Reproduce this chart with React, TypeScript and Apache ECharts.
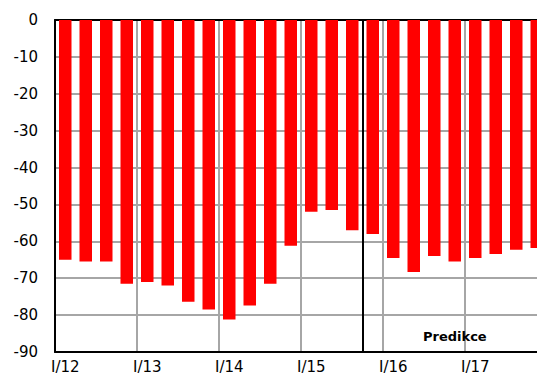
import React, { useEffect, useRef } from "react";
import * as echarts from "echarts";

const years = ["12", "13", "14", "15", "16", "17"];
const quarters = ["I", "II", "III", "IV"];
const categories: string[] = years.flatMap((y) => quarters.map((q) => `${q}/${y}`));
const values: number[] = [
  -65, -65.5, -65.5, -71.5,
  -71, -72, -76.4, -78.5,
  -81.2, -77.4, -71.5, -61.2,
  -52, -51.5, -57, -58,
  -64.5, -68.3, -64, -65.5,
  -64.5, -63.4, -62.3, -61.8,
];
const forecastStartLabel = "IV/15";
const forecastText = "Predikce";
const yMin = -90;
const yMax = 0;
const yStep = 10;

export default function App() {
  const ref = useRef<HTMLDivElement>(null);
  useEffect(() => {
    if (!ref.current) return;
    const chart = echarts.init(ref.current, null, { renderer: "svg" });
    const forecastIndex = categories.indexOf(forecastStartLabel);
    const font = "DejaVu Sans";
    chart.setOption({
      animation: false,
      grid: { left: 55, top: 20, right: 0, bottom: 25, containLabel: false },
      xAxis: [
        {
          type: "category",
          data: categories,
          position: "bottom",
          boundaryGap: true,
          axisLine: { show: true, onZero: false, lineStyle: { color: "#000", width: 2 } },
          axisTick: { show: false },
          axisLabel: {
            interval: 3,
            fontFamily: font,
            fontSize: 15,
            color: "#000",
            margin: 7,
          },
          splitLine: { show: true, interval: 3, lineStyle: { color: "#a6a6a6", width: 2 } },
        },
        {
          type: "value",
          min: 0,
          max: categories.length,
          position: "top",
          axisLine: { show: true, onZero: false, lineStyle: { color: "#000", width: 2 } },
          axisTick: { show: false },
          axisLabel: { show: false },
          splitLine: { show: false },
        },
      ],
      yAxis: {
        type: "value",
        min: yMin,
        max: yMax,
        interval: yStep,
        axisLine: { show: true, lineStyle: { color: "#000", width: 2 } },
        axisTick: { show: false },
        axisLabel: { fontFamily: font, fontSize: 15, color: "#000", margin: 17 },
        splitLine: { show: true, lineStyle: { color: "#a6a6a6", width: 2 } },
      },
      series: [
        {
          type: "bar",
          data: values,
          xAxisIndex: 0,
          barWidth: 12.5,
          itemStyle: { color: "#ff0000" },
          z: 3,
        },
        {
          type: "line",
          xAxisIndex: 1,
          data: [],
          silent: true,
          markLine: {
            silent: true,
            symbol: "none",
            label: { show: false },
            lineStyle: { color: "#000", width: 2, type: "solid" },
            data: [{ xAxis: forecastIndex }],
          },
          z: 4,
        },
      ],
      graphic: [
        {
          type: "text",
          left: 423,
          top: 330,
          style: {
            text: forecastText,
            fontFamily: font,
            fontWeight: "bold",
            fontSize: 13,
            fill: "#000",
          },
          z: 10,
        },
      ],
    });
    return () => chart.dispose();
  }, []);
  return (
    <div
      style={{
        position: "fixed",
        left: 0,
        top: 0,
        width: 537,
        height: 377,
        overflow: "hidden",
        background: "#fff",
      }}
    >
      <div ref={ref} style={{ width: 547, height: 377 }} />
    </div>
  );
}
